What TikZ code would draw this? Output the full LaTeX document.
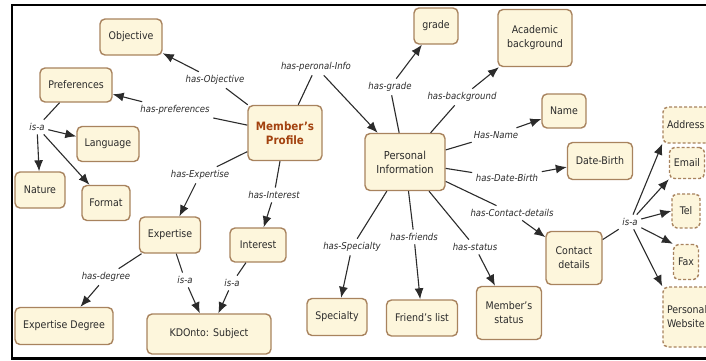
\documentclass[tikz,border=0pt]{standalone}
\usepackage{fontspec}
\setmainfont{DejaVu Sans Condensed}
\usetikzlibrary{arrows.meta}
\definecolor{boxfill}{HTML}{FDF6DC}
\definecolor{boxline}{HTML}{A8835E}
\definecolor{txt}{HTML}{2B2B2B}
\definecolor{mpred}{HTML}{A3420F}
\begin{document}
\begin{tikzpicture}[x=1pt,y=-1pt,
  concept/.style={draw=boxline,line width=1.4pt,fill=boxfill,rounded corners=5pt,
    align=center,inner sep=2pt,font=\fontsize{10.5}{12}\selectfont,text=txt},
  dconcept/.style={concept,dashed,dash pattern=on 3pt off 2pt},
  lab/.style={font=\itshape\fontsize{9.5}{11}\selectfont,text=txt,inner sep=3.5pt},
  link/.style={draw=txt,line width=1.1pt},
  arr/.style={link,-{Latex[length=11pt,width=9pt]}}]
\useasboundingbox (0,0) rectangle (706,360);
\begin{scope}
\clip (0,0) rectangle (706,360);
% frame
\draw[line width=2.2pt] (706,5) -- (12,5) -- (12,358.5) -- (706,358.5);
% concept nodes
\node[concept,minimum width=62,minimum height=36] (obj) at (131,37) {Objective};
\node[concept,minimum width=72,minimum height=34] (pref) at (76,85) {Preferences};
\node[concept,minimum width=62,minimum height=35] (lang) at (108,144) {Language};
\node[concept,minimum width=50,minimum height=36] (nat) at (40,190) {Nature};
\node[concept,minimum width=48,minimum height=35] (fmt) at (106,203) {Format};
\node[concept,minimum width=61,minimum height=36] (exp) at (170,235) {Expertise};
\node[concept,minimum width=98,minimum height=37] (expdeg) at (64,326) {Expertise Degree};
\node[concept,minimum width=124,minimum height=40] (kd) at (209,334) {KDOnto: Subject};
\node[concept,minimum width=56,minimum height=34] (int) at (258,245) {Interest};
\node[concept,minimum width=74,minimum height=55,text=mpred,font=\bfseries\fontsize{11.5}{14}\selectfont] (mp) at (285,133) {Member's\\Profile};
\node[concept,minimum width=80,minimum height=57,font=\fontsize{11}{14}\selectfont] (pi) at (405,162) {Personal\\Information};
\node[concept,minimum width=44,minimum height=36] (grade) at (436,26) {grade};
\node[concept,minimum width=74,minimum height=57,font=\fontsize{10.5}{14}\selectfont] (acad) at (535,38) {Academic\\background};
\node[concept,minimum width=44,minimum height=34] (name) at (564,111) {Name};
\node[concept,minimum width=65,minimum height=37] (db) at (600,161) {Date-Birth};
\node[concept,minimum width=56,minimum height=53,font=\fontsize{10.5}{14}\selectfont] (cd) at (574,258) {Contact\\details};
\node[concept,minimum width=65,minimum height=53,font=\fontsize{10.5}{14}\selectfont] (ms) at (509,313) {Member's\\status};
\node[concept,minimum width=60,minimum height=37] (spec) at (337,317) {Specialty};
\node[concept,minimum width=71,minimum height=36] (fl) at (422,318) {Friend's list};
\node[dconcept,minimum width=74,minimum height=36,text width=66,align=left] (addr) at (700,125) {Address};
\node[dconcept,minimum width=35,minimum height=31,inner sep=1pt] (email) at (687,163) {Email};
\node[dconcept,minimum width=28,minimum height=34,inner sep=1pt] (tel) at (686,211) {Tel};
\node[dconcept,minimum width=25,minimum height=35,inner sep=1pt] (fax) at (686,262) {Fax};
\node[dconcept,minimum width=74,minimum height=60,text width=66,align=left,font=\fontsize{10.5}{14}\selectfont] (pw) at (700,317) {Personal\\Website};
% link labels
\node[lab] (lobj) at (215,80) {has-Objective};
\node[lab] (lpref) at (175,110) {has-preferences};
\node[lab] (lisa1) at (37,127) {is-a};
\node[lab] (lexp) at (200,175) {has-Expertise};
\node[lab] (ldeg) at (106,277) {has-degree};
\node[lab] (lisa2) at (185,280) {is-a};
\node[lab] (lisa3) at (232,283) {is-a};
\node[lab] (lint) at (274,195) {has-Interest};
\node[lab] (lpi) at (316,67) {has-peronal-Info};
\node[lab] (lgrade) at (390,87) {has-grade};
\node[lab] (lbg) at (462,97) {has-background};
\node[lab] (lname) at (496,135) {Has-Name};
\node[lab] (ldb) at (507,178) {has-Date-Birth};
\node[lab] (lcd) at (512,213) {has-Contact-details};
\node[lab] (lst) at (475,247) {has-status};
\node[lab] (lfr) at (414,237) {has-friends};
\node[lab] (lsp) at (352,247) {has-Specialty};
\node[lab] (lisa4) at (630,222) {is-a};
% connectors
\path[link] (mp) -- (lobj);  \path[arr] (lobj) -- (obj);
\path[link] (mp) -- (lpref); \path[arr] (lpref) -- (pref);
\path[link] (mp) -- (lexp);  \path[arr] (lexp) -- (exp);
\path[link] (mp) -- (lint);  \path[arr] (lint) -- (int);
\path[link] (mp) -- (lpi);   \path[arr] (lpi) -- (pi);
\path[link] (pref) -- (lisa1);
\path[arr] (lisa1) -- (lang);
\path[arr] (lisa1) -- (nat);
\path[arr] (lisa1) -- (fmt);
\path[link] (exp) -- (ldeg);  \path[arr] (ldeg) -- (expdeg);
\path[link] (exp) -- (lisa2); \path[arr] (lisa2) -- (kd);
\path[link] (int) -- (lisa3); \path[arr] (lisa3) -- (kd);
\path[link] (pi) -- (lgrade); \path[arr] (lgrade) -- (grade);
\path[link] (pi) -- (lbg);    \path[arr] (lbg) -- (acad);
\path[link] (pi) -- (lname);  \path[arr] (lname) -- (name);
\path[link] (pi) -- (ldb);    \path[arr] (ldb) -- (db);
\path[link] (pi) -- (lcd);    \path[arr] (lcd) -- (cd);
\path[link] (pi) -- (lst);    \path[arr] (lst) -- (ms);
\path[link] (pi) -- (lfr);    \path[arr] (lfr) -- (fl);
\path[link] (pi) -- (lsp);    \path[arr] (lsp) -- (spec);
\path[link] (cd) -- (lisa4);
\path[arr] (lisa4) -- (addr.south west);
\path[arr] (lisa4) -- (email.south west);
\path[arr] (lisa4) -- (tel.west);
\path[arr] (lisa4) -- (fax.north west);
\path[arr] (lisa4) -- (pw.north west);
\end{scope}
\end{tikzpicture}
\end{document}
